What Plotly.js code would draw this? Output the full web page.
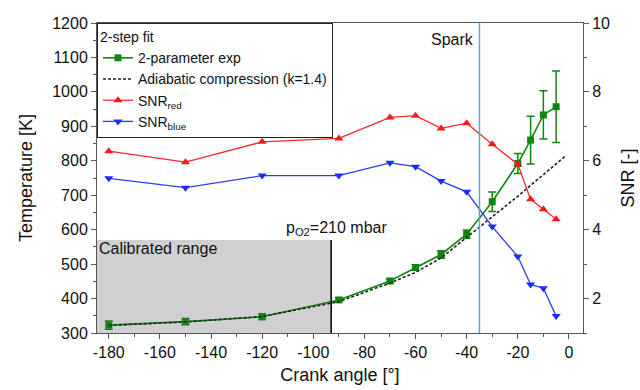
<!DOCTYPE html>
<html>
<head>
<meta charset="utf-8">
<script src="https://cdn.plot.ly/plotly-3.0.1.min.js"></script>
<style>
  html, body { margin: 0; padding: 0; background: #fff; }
  #chart { width: 640px; height: 390px; }
</style>
</head>
<body>
<div id="chart"></div>
<script>
// Crank angle positions of the measurements [deg]
const crankAngle = [-180, -150, -120, -90, -70, -60, -50, -40, -30, -20, -15, -10, -5];

// 2-step fit, 2-parameter exponential: temperature [K] and its uncertainty
const tempFit = [323, 333, 347, 396, 451, 490, 528, 587, 681, 792, 860, 933, 957];
const tempErr = [12, 9, 8, 6, 6, 8, 11, 12, 28, 29, 69, 70, 104];

// Adiabatic compression reference curve (k = 1.4)
const adiabaticAngle = [-180, -150, -120, -90, -70, -60, -50, -40, -30, -20, -10, -1];
const adiabaticTemp  = [322, 332, 348, 391, 445, 476, 518, 577, 636, 697, 760, 816];

// Signal-to-noise ratios of the red and blue channels
const snrRed  = [6.28, 5.96, 6.55, 6.65, 7.26, 7.31, 6.94, 7.09, 6.48, 5.90, 4.88, 4.59, 4.30];
const snrBlue = [5.49, 5.22, 5.57, 5.57, 5.94, 5.83, 5.41, 5.10, 4.09, 3.22, 2.41, 2.30, 1.49];

// Crank angle tick marks, labelled with a plain hyphen for the sign
const angleTicks = [-180, -160, -140, -120, -100, -80, -60, -40, -20, 0];
const angleTickText = ['-180', '-160', '-140', '-120', '-100', '-80', '-60', '-40', '-20', '0'];

// Event markers
const sparkAngle = -35;
const calibLimitAngle = -93;
const calibLimitTemp = 570;

const FONT = 'Liberation Sans, Arial, sans-serif';
const AXIS_COLOR = '#555555';
const xRange = [-184.6, 5.5];

const traces = [
  {
    x: crankAngle, y: tempFit, name: '2-parameter exp',
    type: 'scatter', mode: 'lines+markers',
    line: { color: '#0f870f', width: 1.6 },
    marker: { symbol: 'square', size: 7, color: '#0f870f' },
    error_y: { type: 'data', array: tempErr, visible: true, color: '#0f870f', thickness: 1.5, width: 4 }
  },
  {
    x: adiabaticAngle, y: adiabaticTemp, name: 'Adiabatic compression (k=1.4)',
    type: 'scatter', mode: 'lines',
    line: { color: '#222222', width: 1.6, dash: '3px,2px' }
  },
  {
    x: crankAngle, y: snrRed, name: 'SNR<sub>red</sub>', yaxis: 'y2',
    type: 'scatter', mode: 'lines+markers',
    line: { color: '#f52a2a', width: 1.3 },
    marker: { symbol: 'triangle-up', size: 8, color: '#f51a1a' }
  },
  {
    x: crankAngle, y: snrBlue, name: 'SNR<sub>blue</sub>', yaxis: 'y2',
    type: 'scatter', mode: 'lines+markers',
    line: { color: '#2a3cf5', width: 1.3 },
    marker: { symbol: 'triangle-down', size: 8, color: '#1a2cf5' }
  }
];

const tickFont = { family: FONT, size: 16, color: '#111' };
const titleFont = { family: FONT, size: 18, color: '#111' };
const legendFont = { family: FONT, size: 14, color: '#111' };

const layout = {
  width: 640, height: 390,
  margin: { l: 97, r: 57, t: 23, b: 57 },
  paper_bgcolor: '#ffffff', plot_bgcolor: '#ffffff',
  font: { family: FONT, color: '#111' },
  showlegend: true,
  legend: {
    x: 0, y: 1, xanchor: 'left', yanchor: 'top',
    bgcolor: '#ffffff', bordercolor: '#222', borderwidth: 1,
    font: legendFont,
    title: { text: '2-step fit', font: legendFont },
    tracegroupgap: 0, itemwidth: 30
  },
  xaxis: {
    range: xRange, showgrid: false, zeroline: false,
    showline: true, linecolor: AXIS_COLOR, linewidth: 1, mirror: true,
    ticks: 'outside', ticklen: 5, tickcolor: AXIS_COLOR,
    tickmode: 'array', tickvals: angleTicks, ticktext: angleTickText,
    minor: { ticks: 'outside', ticklen: 3, tickcolor: AXIS_COLOR, dtick: 10, tick0: 0 },
    tickfont: tickFont,
    title: { text: 'Crank angle [°]', font: titleFont, standoff: 8 }
  },
  yaxis: {
    range: [300, 1200], showgrid: false, zeroline: false,
    showline: true, linecolor: AXIS_COLOR, linewidth: 1,
    ticks: 'outside', ticklen: 5, tickcolor: AXIS_COLOR, dtick: 100,
    minor: { ticks: 'outside', ticklen: 3, tickcolor: AXIS_COLOR, dtick: 50 },
    tickfont: tickFont,
    title: { text: 'Temperature [K]', font: titleFont, standoff: 14 }
  },
  yaxis2: {
    overlaying: 'y', side: 'right',
    range: [1, 10], showgrid: false, zeroline: false,
    showline: true, linecolor: AXIS_COLOR, linewidth: 1,
    ticks: 'outside', ticklen: 5, tickcolor: AXIS_COLOR, dtick: 2, tick0: 0,
    minor: { ticks: 'outside', ticklen: 3, tickcolor: AXIS_COLOR, dtick: 1 },
    tickfont: tickFont,
    title: { text: 'SNR [-]', font: titleFont, standoff: 12 }
  },
  shapes: [
    {
      type: 'rect', layer: 'below', xref: 'x', yref: 'y',
      x0: xRange[0], x1: calibLimitAngle, y0: 300, y1: calibLimitTemp,
      fillcolor: '#d0cfd1', line: { width: 0 }
    },
    {
      type: 'line', layer: 'above', xref: 'x', yref: 'y',
      x0: calibLimitAngle, x1: calibLimitAngle, y0: 300, y1: calibLimitTemp,
      line: { color: '#000000', width: 1.5 }
    },
    {
      type: 'line', layer: 'above', xref: 'x', yref: 'paper',
      x0: sparkAngle, x1: sparkAngle, y0: 0, y1: 1,
      line: { color: '#5aa4ea', width: 1.5 }
    }
  ],
  annotations: [
    {
      text: 'Spark', xref: 'x', yref: 'paper', x: sparkAngle, y: 0.948,
      xanchor: 'right', yanchor: 'middle', xshift: -3, showarrow: false,
      font: { family: FONT, size: 16, color: '#111' }
    },
    {
      text: 'Calibrated range', xref: 'paper', yref: 'y', x: 0, y: 544,
      xanchor: 'left', yanchor: 'middle', xshift: 0, showarrow: false,
      font: { family: FONT, size: 16, color: '#111' }
    },
    {
      text: 'p<sub>O2</sub>=210 mbar', xref: 'x', yref: 'y', x: -91, y: 604,
      xanchor: 'center', yanchor: 'middle', showarrow: false,
      font: { family: FONT, size: 16, color: '#111' }
    }
  ]
};

Plotly.newPlot('chart', traces, layout, { displayModeBar: false, staticPlot: true });
</script>
</body>
</html>
